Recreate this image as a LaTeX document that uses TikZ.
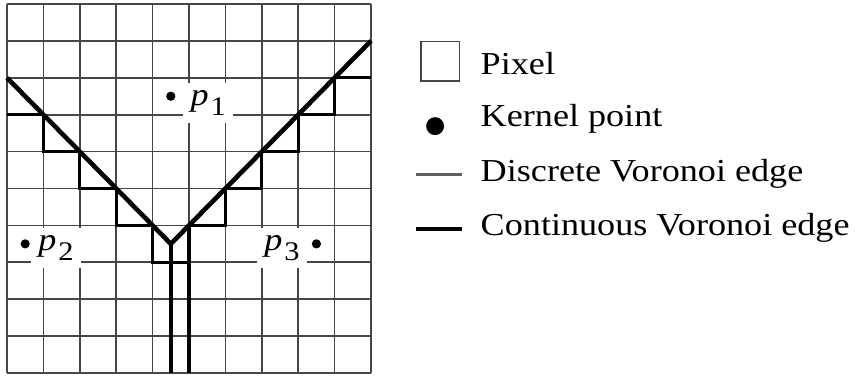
\documentclass[tikz,border=0pt]{standalone}
\usepackage{fontspec}
\setmainfont{Liberation Serif}[FakeStretch=1.13]
\usepackage{tikz}
\usetikzlibrary{
	calc,
	positioning
}
\definecolor{GridGray}{RGB}{70,70,70}
\definecolor{EdgeGray}{RGB}{95,95,95}

\newcommand{\plabel}[1]{{\itshape p}\kern.06em\raisebox{-.3em}{\fontsize{10.5}{12}\selectfont #1}}

\begin{document}
\begin{tikzpicture}[x=0.5cm, y=0.5069cm,
		font=\fontsize{12.5}{15}\selectfont,
		gridline/.style={GridGray, line width=0.65pt},
		discrete/.style={black, line width=1.2pt, line join=miter},
		continuous/.style={black, line width=1.8pt, line join=miter},
		kernel/.style={circle, fill=black, inner sep=0pt, minimum size=3.6pt},
		plab/.style={fill=white, inner sep=3pt},
		legtext/.style={anchor=base west, inner sep=0pt}]
		\useasboundingbox (-0.192,-0.136) rectangle (23.46,10.108);
		
		% 像素网格 10 x 10
		\foreach \i in {0,...,10} {
			\draw[gridline] (\i,0) -- (\i,10);
			\draw[gridline] (0,\i) -- (10,\i);
		}
		
		% 核点
		\node[kernel] (p1) at (4.5,7.5) {};
		\node[kernel] (p2) at (0.5,3.5) {};
		\node[kernel] (p3) at (8.5,3.5) {};
		\node[plab, anchor=base west] (l1) at (4.82,7.24) {\plabel{1}};
		\node[plab, anchor=base west] (l2) at (0.64,3.31) {\plabel{2}};
		\node[plab, anchor=base east] (l3) at (8.26,3.31) {\plabel{3}};
		
		% 离散 Voronoi 边
		\draw[discrete] (0,7) -| (1,6) -| (2,5) -| (3,4) -| (4,3) -| (5,0);
		\draw[discrete] (5,3) -- (5,4) -| (6,5) -| (7,6) -| (8,7) -| (9,8) -- (10,8);
		
		% 连续 Voronoi 边 (三条平分线交于 V)
		\coordinate (V) at (4.5,3.5);
		\draw[continuous] (0,8) -- (V) -- (10,9);
		\draw[continuous] (V) -- (4.5,0);
		
		% 图例
		\draw[gridline] (11.37,7.92) rectangle (12.43,8.98);
		\node[legtext] (tpix) at (13,8.08) {Pixel};
		\node[kernel, minimum size=7pt] (kdot) at (11.76,6.69) {};
		\node[legtext] (tker) at (13,6.675) {Kernel point};
		\coordinate (d1) at (11.24,5.37);
		\coordinate (d2) at (12.5,5.37);
		\draw[EdgeGray, line width=1.1pt] (d1) -- (d2);
		\node[legtext] (tdis) at (13,5.18) {Discrete Voronoi edge};
		\coordinate (c1) at (11.24,3.9);
		\coordinate (c2) at (12.5,3.9);
		\draw[continuous] (c1) -- (c2);
		\node[legtext] (tcon) at (13,3.74) {Continuous Voronoi edge};
	\end{tikzpicture}
\end{document}
